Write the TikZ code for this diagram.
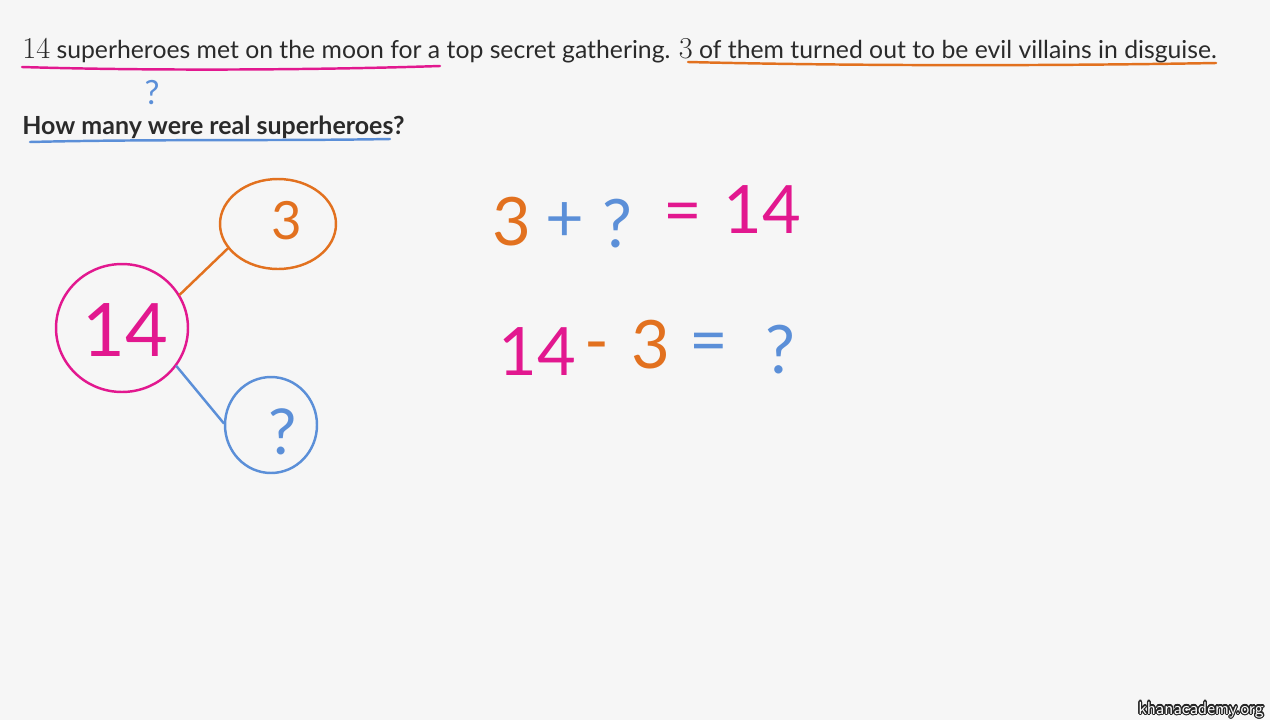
\documentclass[tikz,border=0pt]{standalone}
\usepackage{fontspec}
\setmainfont{Lato}
\newfontfamily\handfont{Lato}
\usepackage{contour}
\contourlength{0.7pt}
\usetikzlibrary{shapes.geometric}

\definecolor{bgpaper}{HTML}{F6F6F6}
\definecolor{inkpink}{HTML}{E2188F}
\definecolor{inkorange}{HTML}{E2711F}
\definecolor{inkblue}{HTML}{5B8FD8}
\definecolor{inktext}{HTML}{2A2A2A}

\newcommand\bignum[1]{{\fontsize{17}{16}\selectfont$#1$}}

\begin{document}
\begin{tikzpicture}[
    x=0.02cm, y=-0.02cm,
    bubble/.style={
        ellipse,
        draw,
        line width=1.4pt,
        inner sep=0pt
    },
    hand/.style={font=\handfont, inner sep=0pt},
    ink/.style={line width=1.4pt, line cap=round}
]

% Paper
\fill[bgpaper] (0,0) rectangle (1270,720);
\useasboundingbox (0,0) rectangle (1270,720);

% Problem text
\node[anchor=base west, inner sep=0pt, text=inktext, font=\fontsize{14.1}{16}\selectfont] (story) at (22,58)
    {\bignum{14} superheroes met on the moon for a top secret gathering. \bignum{3} of them turned out to be evil villains in disguise.};
\node[anchor=base west, inner sep=0pt, text=inktext, font=\fontsize{14.2}{16}\selectfont\bfseries] (question) at (22,134)
    {How many were real superheroes?};

% Underlines
\draw[ink, inkpink] (22,67) .. controls (150,71) and (320,70) .. (440,66);
\draw[ink, inkorange] (688,62) .. controls (850,66) and (1050,66) .. (1216,63);
\draw[ink, inkblue] (30,142) .. controls (150,139) and (280,141) .. (390,139);
\node[hand, text=inkblue, font=\handfont\fontsize{19}{19}\selectfont] (qmark) at (152,93) {?};

% Number bond
\node[bubble, inkpink, minimum width=2.64cm, minimum height=2.56cm] (whole) at (122,328) {};
\node[bubble, inkorange, minimum width=2.32cm, minimum height=1.8cm] (part) at (278,224) {};
\node[bubble, inkblue, minimum width=1.84cm, minimum height=1.92cm] (unknown) at (271,425) {};
\node[hand, text=inkpink, font=\handfont\fontsize{42}{42}\selectfont] at (125,330) {14};
\node[hand, text=inkorange, font=\handfont\fontsize{30}{30}\selectfont] at (287,221) {3};
\node[hand, text=inkblue, font=\handfont\fontsize{36}{36}\selectfont] at (283,432) {?};
\draw[ink, inkorange] (whole.30) -- (part.206);
\draw[ink, inkblue] (whole.-35) -- (unknown.178);

% Addition sentence
\begin{scope}[every node/.style={hand, font=\handfont\fontsize{38}{38}\selectfont}]
    \node[text=inkorange] (a1) at (512,222) {3};
    \node[text=inkblue] (a2) at (565,222) {+};
    \node[text=inkblue] (a3) at (617,224) {?};
    \node[text=inkpink] (a4) at (683,218) {=};
    \node[text=inkpink] (a5) at (762,210) {14};
% Subtraction sentence
    \node[text=inkpink] (s1) at (537,352) {14};
    \node[text=inkorange] (s2) at (597,353) {-};
    \node[text=inkorange] (s3) at (651,345) {3};
    \node[text=inkblue] (s4) at (709,348) {=};
    \node[text=inkblue] (s5) at (780,350) {?};
\end{scope}

% Watermark
\node[anchor=base east, inner sep=0pt, font=\sffamily\fontsize{10}{10}\selectfont] (mark) at (1264,714)
    {\contour{black!85}{\textcolor{white}{khanacademy.org}}};

\end{tikzpicture}
\end{document}
